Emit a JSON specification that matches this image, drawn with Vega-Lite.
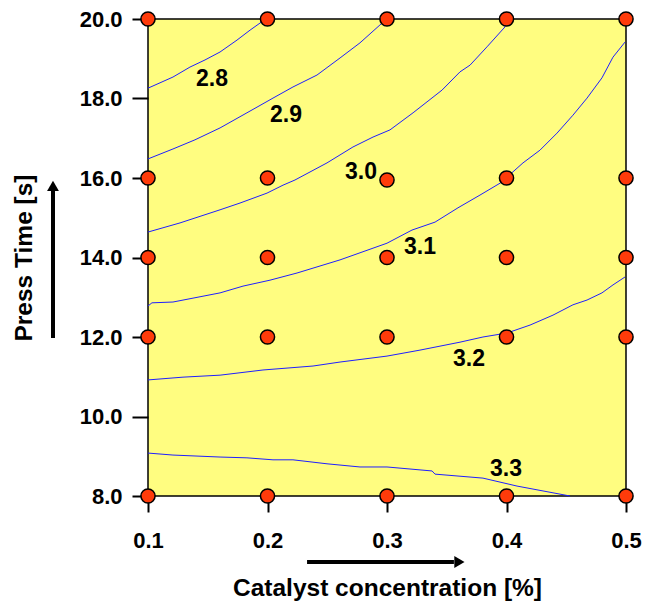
{
  "$schema": "https://vega.github.io/schema/vega-lite/v6.json",
  "width": 478,
  "height": 477,
  "autosize": {"type": "none"},
  "padding": {"left": 148, "top": 19, "right": 30, "bottom": 105},
  "background": "white",
  "config": {
    "font": "Liberation Sans",
    "view": {"fill": "#FFFD80", "stroke": "black", "strokeWidth": 1.5}
  },
  "datasets": {
    "lines": [
      {"level": "2.8", "x": 0.1, "y": 18.26},
      {"level": "2.8", "x": 0.1209, "y": 18.54},
      {"level": "2.8", "x": 0.1351, "y": 18.79},
      {"level": "2.8", "x": 0.1477, "y": 18.97},
      {"level": "2.8", "x": 0.1603, "y": 19.17},
      {"level": "2.8", "x": 0.1745, "y": 19.47},
      {"level": "2.8", "x": 0.1854, "y": 19.72},
      {"level": "2.8", "x": 0.1985, "y": 20.0},
      {"level": "2.9", "x": 0.1, "y": 16.48},
      {"level": "2.9", "x": 0.1209, "y": 16.73},
      {"level": "2.9", "x": 0.1393, "y": 16.96},
      {"level": "2.9", "x": 0.1603, "y": 17.26},
      {"level": "2.9", "x": 0.1828, "y": 17.64},
      {"level": "2.9", "x": 0.2046, "y": 18.01},
      {"level": "2.9", "x": 0.2213, "y": 18.29},
      {"level": "2.9", "x": 0.2414, "y": 18.59},
      {"level": "2.9", "x": 0.2607, "y": 19.02},
      {"level": "2.9", "x": 0.2774, "y": 19.4},
      {"level": "2.9", "x": 0.2941, "y": 19.85},
      {"level": "2.9", "x": 0.2992, "y": 20.0},
      {"level": "3.0", "x": 0.1, "y": 14.64},
      {"level": "3.0", "x": 0.1268, "y": 14.87},
      {"level": "3.0", "x": 0.1603, "y": 15.2},
      {"level": "3.0", "x": 0.177, "y": 15.37},
      {"level": "3.0", "x": 0.1996, "y": 15.62},
      {"level": "3.0", "x": 0.213, "y": 15.82},
      {"level": "3.0", "x": 0.223, "y": 15.95},
      {"level": "3.0", "x": 0.2498, "y": 16.38},
      {"level": "3.0", "x": 0.2715, "y": 16.78},
      {"level": "3.0", "x": 0.2883, "y": 17.03},
      {"level": "3.0", "x": 0.3025, "y": 17.21},
      {"level": "3.0", "x": 0.3218, "y": 17.64},
      {"level": "3.0", "x": 0.346, "y": 18.21},
      {"level": "3.0", "x": 0.3611, "y": 18.67},
      {"level": "3.0", "x": 0.3695, "y": 18.84},
      {"level": "3.0", "x": 0.3837, "y": 19.3},
      {"level": "3.0", "x": 0.3987, "y": 19.8},
      {"level": "3.0", "x": 0.4004, "y": 20.0},
      {"level": "3.1", "x": 0.1, "y": 12.78},
      {"level": "3.1", "x": 0.1033, "y": 12.86},
      {"level": "3.1", "x": 0.1209, "y": 12.88},
      {"level": "3.1", "x": 0.1603, "y": 13.11},
      {"level": "3.1", "x": 0.1795, "y": 13.28},
      {"level": "3.1", "x": 0.2021, "y": 13.43},
      {"level": "3.1", "x": 0.2247, "y": 13.61},
      {"level": "3.1", "x": 0.2607, "y": 13.94},
      {"level": "3.1", "x": 0.3, "y": 14.36},
      {"level": "3.1", "x": 0.3209, "y": 14.69},
      {"level": "3.1", "x": 0.3402, "y": 14.89},
      {"level": "3.1", "x": 0.3594, "y": 15.25},
      {"level": "3.1", "x": 0.3778, "y": 15.57},
      {"level": "3.1", "x": 0.3946, "y": 15.87},
      {"level": "3.1", "x": 0.3996, "y": 16.0},
      {"level": "3.1", "x": 0.4138, "y": 16.38},
      {"level": "3.1", "x": 0.428, "y": 16.7},
      {"level": "3.1", "x": 0.4423, "y": 17.13},
      {"level": "3.1", "x": 0.4556, "y": 17.58},
      {"level": "3.1", "x": 0.4674, "y": 18.01},
      {"level": "3.1", "x": 0.4799, "y": 18.52},
      {"level": "3.1", "x": 0.4891, "y": 19.04},
      {"level": "3.1", "x": 0.4992, "y": 19.42},
      {"level": "3.2", "x": 0.1, "y": 10.92},
      {"level": "3.2", "x": 0.1293, "y": 10.99},
      {"level": "3.2", "x": 0.1603, "y": 11.04},
      {"level": "3.2", "x": 0.1962, "y": 11.17},
      {"level": "3.2", "x": 0.2381, "y": 11.27},
      {"level": "3.2", "x": 0.2607, "y": 11.37},
      {"level": "3.2", "x": 0.3, "y": 11.52},
      {"level": "3.2", "x": 0.3276, "y": 11.67},
      {"level": "3.2", "x": 0.3611, "y": 11.87},
      {"level": "3.2", "x": 0.3803, "y": 12.0},
      {"level": "3.2", "x": 0.4004, "y": 12.1},
      {"level": "3.2", "x": 0.4197, "y": 12.3},
      {"level": "3.2", "x": 0.4389, "y": 12.55},
      {"level": "3.2", "x": 0.4556, "y": 12.81},
      {"level": "3.2", "x": 0.4674, "y": 12.93},
      {"level": "3.2", "x": 0.4799, "y": 13.11},
      {"level": "3.2", "x": 0.4891, "y": 13.31},
      {"level": "3.2", "x": 0.4992, "y": 13.51},
      {"level": "3.3", "x": 0.1, "y": 9.08},
      {"level": "3.3", "x": 0.1209, "y": 9.03},
      {"level": "3.3", "x": 0.1603, "y": 8.98},
      {"level": "3.3", "x": 0.1828, "y": 8.96},
      {"level": "3.3", "x": 0.2046, "y": 8.91},
      {"level": "3.3", "x": 0.2213, "y": 8.91},
      {"level": "3.3", "x": 0.2498, "y": 8.81},
      {"level": "3.3", "x": 0.2774, "y": 8.73},
      {"level": "3.3", "x": 0.3, "y": 8.73},
      {"level": "3.3", "x": 0.3377, "y": 8.63},
      {"level": "3.3", "x": 0.3402, "y": 8.55},
      {"level": "3.3", "x": 0.3803, "y": 8.45},
      {"level": "3.3", "x": 0.4088, "y": 8.25},
      {"level": "3.3", "x": 0.4389, "y": 8.08},
      {"level": "3.3", "x": 0.4531, "y": 8.0}
    ],
    "labels": [
      {"label": "2.8", "x": 0.1536, "y": 18.49},
      {"label": "2.9", "x": 0.2155, "y": 17.58},
      {"label": "3.0", "x": 0.2782, "y": 16.15},
      {"label": "3.1", "x": 0.3276, "y": 14.26},
      {"label": "3.2", "x": 0.3686, "y": 11.45},
      {"label": "3.3", "x": 0.3996, "y": 8.68}
    ],
    "points": [
      {"x": 0.1, "y": 8}, {"x": 0.2, "y": 8}, {"x": 0.3, "y": 8}, {"x": 0.4, "y": 8}, {"x": 0.5, "y": 8},
      {"x": 0.1, "y": 12}, {"x": 0.2, "y": 12}, {"x": 0.3, "y": 12}, {"x": 0.4, "y": 12}, {"x": 0.5, "y": 12},
      {"x": 0.1, "y": 14}, {"x": 0.2, "y": 14}, {"x": 0.3, "y": 14}, {"x": 0.4, "y": 14}, {"x": 0.5, "y": 14},
      {"x": 0.1, "y": 16}, {"x": 0.2, "y": 16}, {"x": 0.3, "y": 15.95}, {"x": 0.4, "y": 16}, {"x": 0.5, "y": 16},
      {"x": 0.1, "y": 20}, {"x": 0.2, "y": 20}, {"x": 0.3, "y": 20}, {"x": 0.4, "y": 20}, {"x": 0.5, "y": 20}
    ],
    "arrowShafts": [
      {"x": 0.2331, "x2": 0.356, "y": 6.34, "y2": 6.34},
      {"x": 0.0205, "x2": 0.0205, "y": 11.975, "y2": 15.7}
    ],
    "arrowHeads": [
      {"x": 0.3606, "y": 6.34, "dir": "right"},
      {"x": 0.0205, "y": 15.8, "dir": "up"}
    ]
  },
  "encoding": {
    "x": {
      "field": "x", "type": "quantitative",
      "scale": {"domain": [0.1, 0.5], "nice": false, "zero": false},
      "axis": {
        "values": [0.1, 0.2, 0.3, 0.4, 0.5], "format": ".1f", "grid": false, "domain": false,
        "tickSize": 16, "tickWidth": 2, "tickColor": "black", "labelFlush": false,
        "labelFont": "Liberation Sans", "labelFontSize": 22, "labelFontWeight": "bold", "labelColor": "black", "labelPadding": 18,
        "title": "Catalyst concentration [%]", "titleFont": "Liberation Sans", "titleFontSize": 24.5, "titleFontWeight": "bold", "titleColor": "black", "titlePadding": 25
      }
    },
    "y": {
      "field": "y", "type": "quantitative",
      "scale": {"domain": [8, 20], "nice": false, "zero": false},
      "axis": {
        "values": [8, 10, 12, 14, 16, 18, 20], "format": ".1f", "grid": false, "domain": false,
        "tickSize": 16, "tickWidth": 2, "tickColor": "black", "labelFlush": false,
        "labelFont": "Liberation Sans", "labelFontSize": 22, "labelFontWeight": "bold", "labelColor": "black", "labelPadding": 10,
        "title": "Press Time [s]", "titleFont": "Liberation Sans", "titleFontSize": 24.5, "titleFontWeight": "bold", "titleColor": "black", "titlePadding": 43
      }
    }
  },
  "layer": [
    {
      "data": {"name": "lines"},
      "mark": {"type": "line", "color": "#1f1fff", "strokeWidth": 1},
      "encoding": {"detail": {"field": "level", "type": "nominal"}}
    },
    {
      "data": {"name": "labels"},
      "mark": {"type": "text", "font": "Liberation Sans", "fontSize": 23, "fontWeight": "bold", "color": "black"},
      "encoding": {"text": {"field": "label", "type": "nominal"}}
    },
    {
      "data": {"name": "points"},
      "mark": {"type": "point", "shape": "circle", "filled": true, "fill": "#FF3B0A", "stroke": "black", "strokeWidth": 1.5, "size": 200, "opacity": 1, "clip": false}
    },
    {
      "data": {"name": "arrowShafts"},
      "mark": {"type": "rule", "color": "black", "strokeWidth": 4, "clip": false},
      "encoding": {
        "x2": {"field": "x2"},
        "y2": {"field": "y2"}
      }
    },
    {
      "data": {"name": "arrowHeads"},
      "mark": {"type": "point", "filled": true, "color": "black", "opacity": 1, "size": 140, "clip": false},
      "encoding": {
        "shape": {"field": "dir", "type": "nominal", "scale": {"domain": ["right", "up"], "range": ["triangle-right", "triangle-up"]}, "legend": null}
      }
    }
  ]
}
